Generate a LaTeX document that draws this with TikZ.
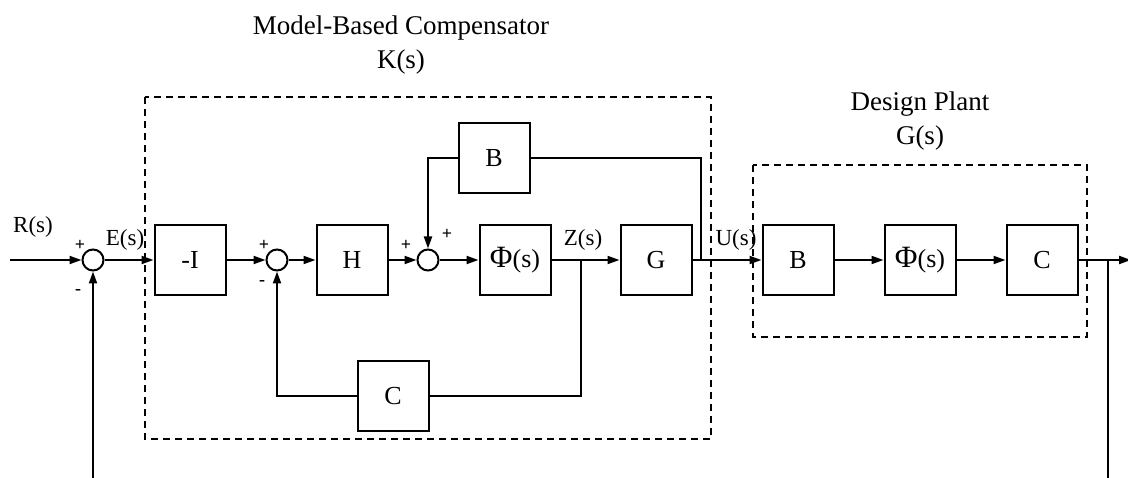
\documentclass[tikz,border=0pt]{standalone}
\usepackage{fontspec}
\setmainfont{Liberation Serif}
\usetikzlibrary{arrows.meta}
\begin{document}
\begin{tikzpicture}[x=1pt,y=1pt,yscale=-1,xscale=1,
	block/.style={draw,line width=2pt,minimum width=71pt,minimum height=70pt,inner sep=0pt,font=\fontsize{26}{26}\selectfont},
	sumnode/.style={draw,circle,line width=2pt,minimum size=21pt,inner sep=0pt},
	frame/.style={line width=2.2pt,dash pattern=on 7pt off 5pt},
	wire/.style={line width=2pt},
	sig/.style={wire,-{Triangle[length=12pt,width=8pt]}},
	lbl/.style={inner sep=0pt,font=\fontsize{23}{23}\selectfont},
	sgn/.style={inner sep=0pt,font=\fontsize{18}{18}\selectfont\bfseries},
	ttl/.style={inner sep=0pt,font=\fontsize{27}{34}\selectfont,align=center}]
	\useasboundingbox (0,0) rectangle (1128,478);

	%Shape: Rectangle [compensator frame]
	\draw [frame] (145,97) rectangle (711,439) ;
	%Shape: Rectangle [plant frame]
	\draw [frame] (753,165) rectangle (1087,337) ;

	% Text Node
	\node [ttl] (ktitle) at (401,45) {Model-Based Compensator\\K(s)};
	% Text Node
	\node [ttl] (gtitle) at (920,121) {Design Plant\\G(s)};

	%Shape: Circle [summing junctions]
	\node [sumnode] (sum1) at (93,260) {};
	\node [sumnode] (sum2) at (277,260) {};
	\node [sumnode] (sum3) at (428,260) {};

	%Shape: Rectangle [compensator blocks]
	\node [block] (negI) at (190,260) {-I};
	\node [block] (gainH) at (352,260) {H};
	\node [block] (gainBk) at (494,158) {B};
	\node [block] (phiK) at (515,260) {{\fontsize{31}{31}\selectfont Φ}(s)};
	\node [block] (gainG) at (656,260) {G};
	\node [block] (gainCk) at (393,396) {C};

	%Shape: Rectangle [plant blocks]
	\node [block] (gainBp) at (798,260) {B};
	\node [block] (phiP) at (920,260) {{\fontsize{31}{31}\selectfont Φ}(s)};
	\node [block] (gainCp) at (1042,260) {C};

	% branch points
	\coordinate (rin) at (10,260);
	\coordinate (fbin) at (93,478);
	\coordinate (zpick) at (581,260);
	\coordinate (upick) at (701,260);
	\coordinate (ypick) at (1108,260);
	\coordinate (yout) at (1131,260);
	\coordinate (fbout) at (1108,478);

	%Straight Lines [forward path]
	\draw [sig] (rin) -- (sum1.west) ;
	\draw [sig] (fbin) -- (sum1.south) ;
	\draw [sig] (sum1.east) -- (negI.west) ;
	\draw [sig] (negI.east) -- (sum2.west) ;
	\draw [sig] (sum2.east) -- (gainH.west) ;
	\draw [sig] (gainH.east) -- (sum3.west) ;
	\draw [sig] (sum3.east) -- (phiK.west) ;
	\draw [sig] (phiK.east) -- (gainG.west) ;
	\draw [sig] (gainG.east) -- (gainBp.west) ;
	\draw [sig] (gainBp.east) -- (phiP.west) ;
	\draw [sig] (phiP.east) -- (gainCp.west) ;
	\draw [sig] (gainCp.east) -- (yout) ;

	%Straight Lines [inner loops]
	\draw [wire] (upick) |- (gainBk.east) ;
	\draw [sig] (gainBk.west) -| (sum3.north) ;
	\draw [wire] (zpick) |- (gainCk.east) ;
	\draw [sig] (gainCk.west) -| (sum2.south) ;
	\draw [wire] (ypick) -- (fbout) ;

	% Text Node
	\node [lbl] (rlbl) at (33,227) {R(s)};
	\node [lbl] (elbl) at (125,240) {E(s)};
	\node [lbl] (zlbl) at (583,240) {Z(s)};
	\node [lbl] (ulbl) at (736,240) {U(s)};

	% Text Node [signs]
	\node [sgn] (p1) at (80,245) {+};
	\node [sgn] (m1) at (78,292) {-};
	\node [sgn] (p2) at (264,245) {+};
	\node [sgn] (m2) at (262,283) {-};
	\node [sgn] (p3) at (406,245) {+};
	\node [sgn] (p4) at (447,234) {+};

\end{tikzpicture}
\end{document}
